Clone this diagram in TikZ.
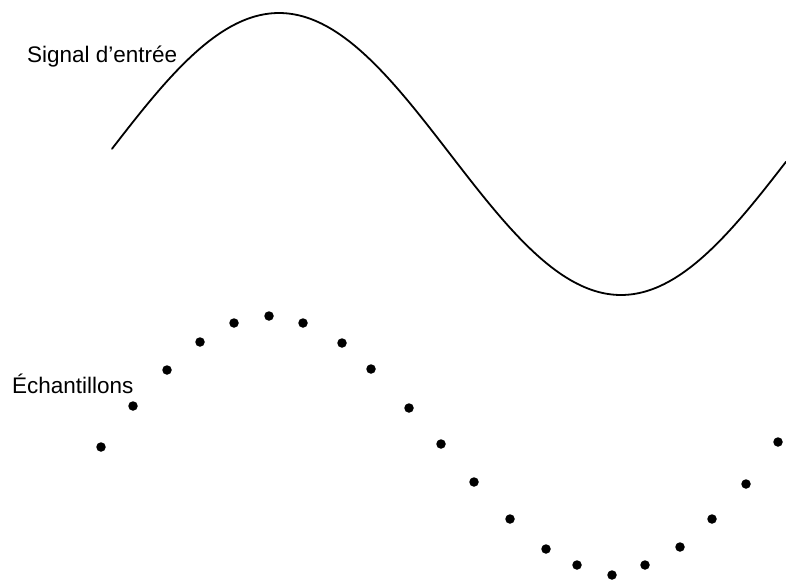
\documentclass[tikz,border=0pt]{standalone}
\usepackage{fontspec}
\setmainfont{Liberation Sans}
\usepackage{tikz}
\usetikzlibrary{positioning}

\begin{document}
\begin{tikzpicture}[x=1pt,y=-1pt,
   lbl/.style={anchor=base west,inner sep=0pt,font=\fontsize{22.5}{26}\selectfont},
   wave/.style={line width=1.8pt,line cap=round},
   sample/.style={circle,fill=black,inner sep=0pt,minimum size=9.5pt}]
  \useasboundingbox (0,0) rectangle (786,586);
  % continuous input
  \draw[wave] plot[domain=112:786,samples=120,smooth] (\x,{154-141*cos((\x-279)/342*180)});
  \node[lbl] (sig) at (27,63) {Signal d’entrée};
  % sampled points
  \foreach \xs/\ys [count=\i] in {101/447,133/406,167/370,200/342,234/323,269/316,303/323,
      342/343,371/369,409/408,441/444,474/482,510/519,546/549,577/565,612/575,
      645/565,680/547,712/519,746/484,778/442}
    \node[sample] (s\i) at (\xs,\ys) {};
  \node[lbl] (ech) at (12,393) {Échantillons};
\end{tikzpicture}
\end{document}
